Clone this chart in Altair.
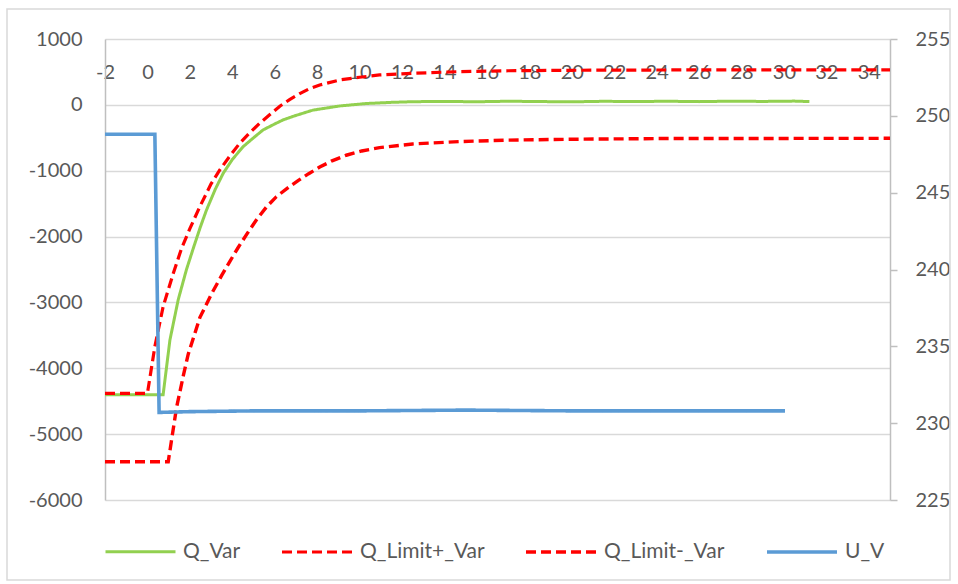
import altair as alt
import pandas as pd

# Series names, colours and dash styles
SERIES = ["Q_Var", "Q_Limit+_Var", "Q_Limit-_Var", "U_V"]
COLORS = ["#92D050", "#FF0000", "#FF0000", "#5B9BD5"]
DASHES = [[1, 0], [10, 5], [10, 5], [1, 0]]
WIDTHS = [3, 3.6, 3.6, 3]

# Reactive power response (Var) over time (s)
q_t = [-2, 0.74, 1.06, 1.45, 1.84, 2.2, 2.5, 2.78, 3.2, 3.57, 4.0, 4.51, 5.0, 5.45,
       6.0, 6.39, 6.86, 7.4, 7.8, 8.5, 9.06, 10.3, 11.5, 12.5, 14.0, 15.5, 17.0,
       18.5, 20.0, 21.5, 23.0, 24.5, 26.0, 27.5, 29.0, 30.5, 31.2]
q_var = [-4400, -4400, -3570, -2960, -2500, -2140, -1850, -1600, -1280, -1040, -830,
         -635, -500, -381, -290, -229, -175, -120, -80, -45, -17, 20, 38, 48, 52, 47,
         55, 50, 46, 54, 50, 55, 49, 56, 52, 57, 50]

# Upper tolerance band (Var)
up_t = [-2, 0.0, 0.35, 0.74, 1.22, 1.61, 2.0, 2.47, 3.0, 3.41, 3.9, 4.35, 4.8, 5.29,
        5.8, 6.24, 6.7, 7.18, 7.6, 8.12, 9.06, 10.0, 10.94, 12.5, 14.7, 17.0, 20.0,
        25.0, 35.0]
q_limit_up = [-4380, -4380, -3670, -3064, -2557, -2177, -1880, -1546, -1200, -988,
              -770, -583, -430, -280, -140, -20, 80, 170, 240, 302, 378, 419, 454,
              480, 504, 518, 525, 530, 530]

# Lower tolerance band (Var)
lo_t = [-2, 0.98, 1.37, 1.7, 1.92, 2.47, 3.02, 3.5, 3.88, 4.27, 4.7, 5.14, 5.6, 6.08,
        6.6, 7.1, 7.6, 8.12, 8.7, 9.37, 10.1, 10.94, 12.5, 14.7, 17.0, 20.0, 24.0, 35.0]
q_limit_lo = [-5420, -5420, -4600, -4100, -3790, -3230, -2870, -2590, -2380, -2170,
              -1955, -1745, -1555, -1394, -1265, -1150, -1045, -945, -850, -765, -700,
              -650, -594, -558, -535, -522, -512, -508]

# Grid voltage (V)
u_t = [-2, 0.35, 0.55, 2.0, 5.0, 10.0, 15.0, 20.0, 25.0, 30.05]
u_v = [248.8, 248.8, 230.7, 230.75, 230.8, 230.8, 230.85, 230.8, 230.8, 230.8]

# Axis ticks
x_ticks = list(range(-2, 35, 2))
q_ticks = list(range(-6000, 1001, 1000))
u_ticks = list(range(225, 256, 5))

q_df = pd.concat([
    pd.DataFrame({"t": q_t, "value": q_var, "series": "Q_Var"}),
    pd.DataFrame({"t": up_t, "value": q_limit_up, "series": "Q_Limit+_Var"}),
    pd.DataFrame({"t": lo_t, "value": q_limit_lo, "series": "Q_Limit-_Var"}),
], ignore_index=True)
u_df = pd.DataFrame({"t": u_t, "value": u_v, "series": "U_V"})

FONT = "Lato"
LABEL_COLOR = "#595959"
AXIS_COLOR = "#bfbfbf"
GRID_COLOR = "#d9d9d9"
PLAIN = "datum.value + ''"  # plain integers with an ASCII hyphen for negatives

legend = alt.Legend(
    title=None, orient="none", direction="horizontal", legendX=-1, legendY=476,
    symbolType="stroke", symbolSize=4900, symbolStrokeWidth=3.5,
    labelFont=FONT, labelFontSize=21, labelColor=LABEL_COLOR,
    labelOffset=6, columnPadding=34, padding=0,
)
color = alt.Color("series:N", scale=alt.Scale(domain=SERIES, range=COLORS), legend=legend)
dash = alt.StrokeDash("series:N", scale=alt.Scale(domain=SERIES, range=DASHES), legend=legend)
width = alt.StrokeWidth("series:N", scale=alt.Scale(domain=SERIES, range=WIDTHS), legend=None)

x = alt.X(
    "t:Q",
    scale=alt.Scale(domain=[-2, 35], nice=False, zero=False),
    axis=alt.Axis(
        title=None, orient="top", values=x_ticks, offset=-39, domain=False, ticks=False,
        tickSize=0, labelPadding=0, labelBaseline="alphabetic", labelFlush=False,
        labelOverlap=False, grid=False, labelFont=FONT, labelFontSize=20,
        labelColor=LABEL_COLOR, labelExpr=PLAIN,
    ),
)

q_layer = alt.Chart(q_df).mark_line().encode(
    x=x,
    y=alt.Y(
        "value:Q",
        scale=alt.Scale(domain=[-6000, 1000], nice=False, zero=False),
        axis=alt.Axis(
            title=None, orient="left", values=q_ticks, grid=True, gridColor=GRID_COLOR,
            gridWidth=1.3, domain=True, domainColor=AXIS_COLOR, domainWidth=1.5,
            ticks=False, tickSize=0, labelPadding=23, labelFont=FONT, labelFontSize=20,
            labelColor=LABEL_COLOR, labelExpr=PLAIN,
        ),
    ),
    color=color,
    strokeDash=dash,
    strokeWidth=width,
    detail="series:N",
)

u_layer = alt.Chart(u_df).mark_line().encode(
    x=x,
    y=alt.Y(
        "value:Q",
        scale=alt.Scale(domain=[225, 255], nice=False, zero=False),
        axis=alt.Axis(
            title=None, orient="right", values=u_ticks, grid=False, domain=True,
            domainColor=AXIS_COLOR, domainWidth=1.5, ticks=True, tickSize=7,
            tickColor=AXIS_COLOR, tickWidth=1.5, labelPadding=18, labelFont=FONT,
            labelFontSize=20, labelColor=LABEL_COLOR, labelExpr=PLAIN,
        ),
    ),
    color=color,
    strokeDash=dash,
    strokeWidth=width,
)

# Thin frame around the whole figure
frame = alt.Chart(pd.DataFrame({"k": [0]})).mark_rect(
    fill="transparent", stroke=GRID_COLOR, strokeWidth=1.5
).encode(
    x=alt.value(-98), x2=alt.value(845), y=alt.value(-30), y2=alt.value(541)
)

chart = alt.layer(frame, q_layer, u_layer).resolve_scale(y="independent").properties(
    width=785,
    height=461,
    autosize=alt.AutoSizeParams(type="none"),
    padding={"left": 105, "top": 39, "right": 68, "bottom": 84},
    background="white",
).configure_view(stroke=None)

chart.save("out.html", embed_options={"renderer": "svg", "actions": False})
